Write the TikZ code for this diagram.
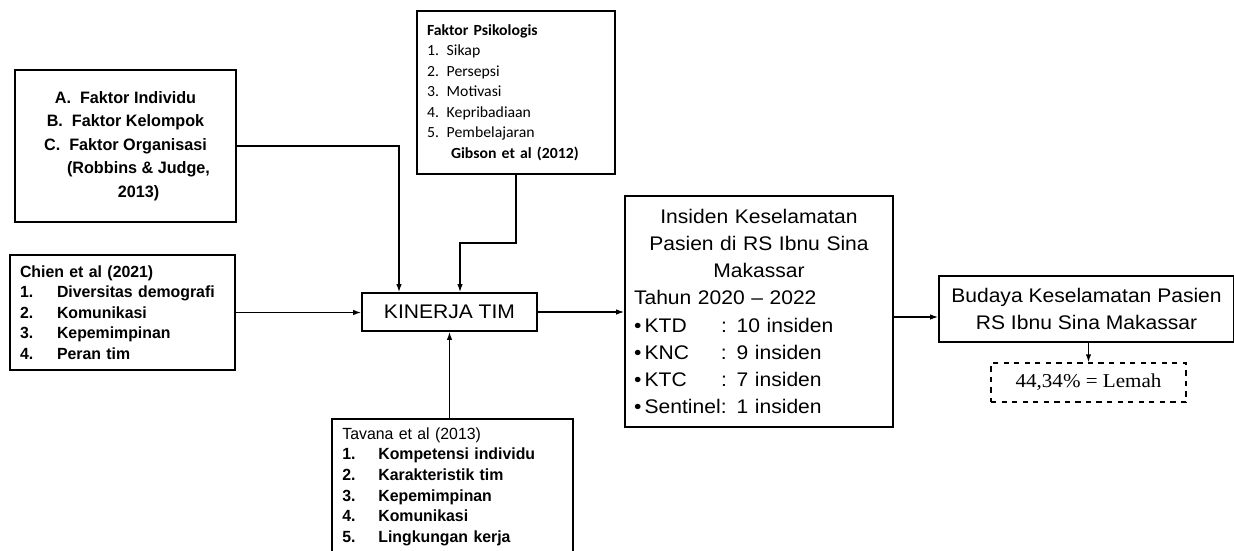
\documentclass[tikz,border=0pt]{standalone}
\usepackage{fontspec}
\setmainfont{Liberation Sans}[FakeStretch=1.07]
\newfontfamily\narrowfont{Liberation Sans}[FakeStretch=0.98]
\newfontfamily\psifont{Carlito}[FakeStretch=1.02]
\newfontfamily\serifont{Liberation Serif}[FakeStretch=1.07]
\usetikzlibrary{positioning, arrows.meta, calc}
\tikzset{box/.style={draw,line width=1pt,inner sep=0pt},
         dashbox/.style={draw,dashed,line width=0.8pt,inner sep=0pt},
         big/.style={font=\fontsize{11.2pt}{15.5pt}\selectfont},
         list/.style={font=\fontsize{9.2pt}{11.7pt}\selectfont\narrowfont\bfseries,align=left},
        }

\begin{document}
\begin{tikzpicture}[x=0.02cm,y=-0.02cm,>={Latex[length=1.6mm,width=1.1mm]},line width=0.75pt]
        \useasboundingbox(0,0)rectangle(1234,551);
        \clip(0,0)rectangle(1234,551);
        \node[box, align=center, font=\fontsize{9.4pt}{13.4pt}\selectfont\narrowfont\bfseries, minimum width=4.42cm, minimum height=3.04cm](fa)at(125.5,146){A.\ \ Faktor Individu\\B.\ \ Faktor Kelompok\\C.\ \ Faktor Organisasi\\\hspace*{0.52cm}(Robbins \& Judge,\\\hspace*{0.52cm}2013)};
        \node[box, align=left, font=\fontsize{8.8pt}{11.7pt}\psifont, text width=3.56cm, inner xsep=0.2cm, minimum height=3.26cm](fp)at(516,92.5){{\bfseries Faktor Psikologis}\\1. Sikap\\2. Persepsi\\3. Motivasi\\4. Kepribadiaan\\5. Pembelajaran\\\hspace*{0.48cm}{\bfseries Gibson et al (2012)}};
        \node[box, list, text width=4.1cm, inner xsep=0.2cm, minimum height=2.3cm](ch)at(122.5,312.5){Chien et al (2021)\\\makebox[0.74cm][l]{1.}Diversitas demografi\\\makebox[0.74cm][l]{2.}Komunikasi\\\makebox[0.74cm][l]{3.}Kepemimpinan\\\makebox[0.74cm][l]{4.}Peran tim};
        \node[box, big, minimum width=3.5cm, minimum height=0.76cm](kt)at(449.5,312){KINERJA TIM};
        \node[box, list, anchor=north west, text width=4.4cm, inner xsep=0.21cm, minimum height=2.71cm](tv)at(331,418){{\mdseries Tavana et al (2013)}\\\makebox[0.72cm][l]{1.}Kompetensi individu\\\makebox[0.72cm][l]{2.}Karakteristik tim\\\makebox[0.72cm][l]{3.}Kepemimpinan\\\makebox[0.72cm][l]{4.}Komunikasi\\\makebox[0.72cm][l]{5.}Lingkungan kerja};
        \node[box, big, align=left, text width=5cm, inner xsep=0.18cm, minimum height=4.62cm](ik)at(759,311.5){\makebox[\linewidth]{Insiden Keselamatan}\\\makebox[\linewidth]{Pasien di RS Ibnu Sina}\\\makebox[\linewidth]{Makassar}\\Tahun 2020 -- 2022\\\makebox[1.74cm][l]{\textbullet\,KTD}: 10 insiden\\\makebox[1.74cm][l]{\textbullet\,KNC}: 9 insiden\\\makebox[1.74cm][l]{\textbullet\,KTC}: 7 insiden\\\makebox[1.74cm][l]{\textbullet\,Sentinel}: 1 insiden};
        \node[box, big, align=center, minimum width=5.9cm, minimum height=1.32cm](bk)at(1086.5,309){Budaya Keselamatan Pasien\\RS Ibnu Sina Makassar};
        \node[dashbox, font=\fontsize{11.2pt}{14pt}\serifont, minimum width=3.9cm, minimum height=0.78cm](hs)at(1088.5,382.5){44,34\% = Lemah};

        \draw[->](fa.east)-|($(kt.north)+(-50.5,0)$);
        \draw[->](fp.south)--++(0,68)-|($(kt.north)+(10.5,0)$);
        \draw[->](ch.east)--(ch.east-|kt.west);
        \draw[->](tv.north-|kt.south)--(kt.south);
        \draw[->](kt.east)--(kt.east-|ik.west);
        \draw[->]([yshift=-0.11cm]ik.east)--([yshift=-0.11cm]ik.east-|bk.west);
        \draw[->](hs.north|-bk.south)--(hs.north);
\end{tikzpicture}
\end{document}
